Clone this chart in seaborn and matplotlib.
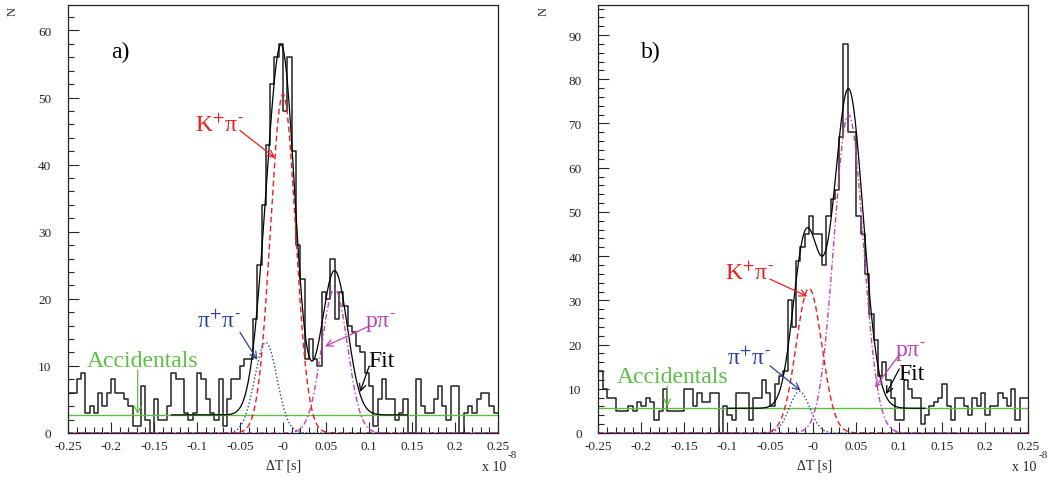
import numpy as np
import pandas as pd
import matplotlib
matplotlib.use("Agg")
import matplotlib.pyplot as plt
from matplotlib.ticker import MultipleLocator
import seaborn as sns

# 100 bins of 0.005 between -0.25 and 0.25 (x 10^-8 s)
bin_lo, bin_hi, bin_w = -0.25, 0.25, 0.005
centers = np.arange(100) * bin_w + bin_lo + bin_w / 2

# histogram a)
counts_a = [6, 6, 8, 9, 3, 4, 3, 6, 4, 6,
            8, 6, 6, 5, 4, 1, 1, 7, 2, 0,
            5, 2, 2, 4, 9, 8, 8, 3, 2, 3,
            9, 8, 5, 3, 2, 8, 1, 5, 8, 8,
            10, 11, 11, 17, 25, 34, 43, 52, 56, 58,
            48, 56, 42, 28, 23, 11, 14, 11, 10, 21,
            20, 26, 17, 21, 19, 16, 15, 13, 12, 9,
            7, 1, 5, 8, 5, 5, 2, 3, 5, 0,
            0, 8, 4, 3, 3, 5, 7, 4, 2, 7,
            7, 0, 3, 4, 3, 5, 6, 6, 4, 3]

# histogram b)
counts_b = [14, 10, 8, 8, 5, 5, 5, 6, 5, 7,
            6, 8, 7, 3, 5, 10, 5, 5, 5, 5,
            10, 10, 6, 9, 7, 7, 9, 9, 0, 6,
            4, 3, 9, 9, 9, 3, 8, 8, 12, 9,
            6, 11, 13, 14, 30, 24, 39, 42, 45, 49,
            45, 45, 38, 49, 53, 55, 67, 88, 68, 68,
            49, 45, 36, 27, 21, 13, 16, 12, 8, 3,
            3, 12, 10, 8, 8, 2, 4, 6, 7, 8,
            11, 6, 3, 8, 8, 6, 4, 8, 6, 9,
            4, 6, 6, 9, 8, 6, 10, 3, 8, 8]

# fit components: [amplitude, mean, sigma]
bg_a = 2.7
kpi_a = [50.5, 0.0, 0.0145]
pipi_a = [13.5, -0.02, 0.013]
ppi_a = [21.5, 0.06, 0.015]
fit_range_a = [-0.13, 0.145]

bg_b = 5.6
kpi_b = [32.7, -0.005, 0.015]
pipi_b = [9.4, -0.016, 0.012]
ppi_b = [72.0, 0.041, 0.017]
fit_range_b = [-0.1, 0.13]

xticks = [-0.25, -0.2, -0.15, -0.1, -0.05, 0.0, 0.05, 0.1, 0.15, 0.2, 0.25]
xtick_labels = ["-0.25", "-0.2", "-0.15", "-0.1", "-0.05", "-0",
                "0.05", "0.1", "0.15", "0.2", "0.25"]

RED = "#ee1c1c"
BLUE = "#2c3f9e"
MAGENTA = "#c040b4"
GREEN = "#5cbf44"

sns.set_style("ticks")
plt.rcParams["font.family"] = ["Liberation Serif", "DejaVu Serif"]
plt.rcParams["mathtext.fontset"] = "stix"
plt.rcParams["axes.unicode_minus"] = False

SUP_P = r"$^{+}$"
SUP_M = r"$^{\text{-}}$"


def gauss(x, p):
    return p[0] * np.exp(-0.5 * ((x - p[1]) / p[2]) ** 2)


def draw_panel(ax, counts, bg, kpi, pipi, ppi, fit_range, ymax):
    df = pd.DataFrame({"dt": centers, "n": counts})
    sns.histplot(data=df, x="dt", weights="n", binwidth=bin_w,
                 binrange=(bin_lo, bin_hi), element="step", fill=False,
                 color="#222222", linewidth=1.1, ax=ax)

    xs = np.linspace(-0.25, 0.25, 1000)
    sns.lineplot(x=xs, y=np.full_like(xs, bg), color=GREEN, lw=1.0, ax=ax)
    sns.lineplot(x=xs, y=gauss(xs, kpi), color=RED, lw=1.0,
                 linestyle=(0, (4, 2.5)), ax=ax)
    sns.lineplot(x=xs, y=gauss(xs, pipi), color=BLUE, lw=1.0,
                 linestyle=(0, (1, 1.6)), ax=ax)
    sns.lineplot(x=xs, y=gauss(xs, ppi), color=MAGENTA, lw=1.0,
                 linestyle=(0, (4, 1.8, 1, 1.8)), ax=ax)

    xf = np.linspace(fit_range[0], fit_range[1], 600)
    total = bg + gauss(xf, kpi) + gauss(xf, pipi) + gauss(xf, ppi)
    sns.lineplot(x=xf, y=total, color="black", lw=0.9, ax=ax)

    ax.set_xlim(-0.25, 0.25)
    ax.set_ylim(0, ymax)
    ax.set_xlabel("")
    ax.set_ylabel("")
    ax.set_xticks(xticks)
    ax.set_xticklabels(xtick_labels)
    ax.xaxis.set_minor_locator(MultipleLocator(0.01))
    ax.yaxis.set_major_locator(MultipleLocator(10))
    ax.yaxis.set_minor_locator(MultipleLocator(2))
    ax.tick_params(axis="x", which="major", direction="in", length=8,
                   width=0.8, pad=5, labelsize=9.5, top=False)
    ax.tick_params(axis="x", which="minor", direction="in", length=4,
                   width=0.8, top=False)
    ax.tick_params(axis="y", which="major", direction="in", length=8,
                   width=0.8, pad=12, labelsize=9.5, right=False)
    ax.tick_params(axis="y", which="minor", direction="in", length=4,
                   width=0.8, right=False)
    for s in ax.spines.values():
        s.set_visible(True)
        s.set_linewidth(0.9)
        s.set_color("#222222")


def label(ax, x, y, text, color, start=None, end=None):
    ax.text(x, y, text, color=color, fontsize=17, ha="center", va="baseline")
    if start is not None:
        ax.annotate("", xy=end, xytext=start,
                    arrowprops=dict(arrowstyle="->", color=color, lw=0.9,
                                    mutation_scale=12, shrinkA=0, shrinkB=0))


fig = plt.figure(figsize=(10.61, 4.81), dpi=100)
ax1 = fig.add_axes([68 / 1061, 47 / 481, 430 / 1061, 428 / 481])
ax2 = fig.add_axes([598.3 / 1061, 47 / 481, 430 / 1061, 428 / 481])

draw_panel(ax1, counts_a, bg_a, kpi_a, pipi_a, ppi_a, fit_range_a, 63.8)
draw_panel(ax2, counts_b, bg_b, kpi_b, pipi_b, ppi_b, fit_range_b, 96.8)

kpi_txt = "K" + SUP_P + "π" + SUP_M
pipi_txt = "π" + SUP_P + "π" + SUP_M
ppi_txt = "pπ" + SUP_M

# panel a) labels
label(ax1, -0.1886, 56.1, "a)", "black")
label(ax1, -0.074, 45.1, kpi_txt, RED, (-0.05, 45.1), (-0.0093, 41.0))
label(ax1, -0.075, 15.8, pipi_txt, BLUE, (-0.05, 15.0), (-0.0299, 10.9))
label(ax1, -0.1636, 10.0, "Accidentals", GREEN, (-0.169, 9.4), (-0.169, 2.8))
label(ax1, 0.1135, 15.8, ppi_txt, MAGENTA, (0.1012, 16.0), (0.0488, 12.9))
label(ax1, 0.115, 10.0, "Fit", "black", (0.1003, 10.0), (0.0895, 6.1))

# panel b) labels
label(ax2, -0.1887, 85.0, "b)", "black")
label(ax2, -0.0745, 34.8, kpi_txt, RED, (-0.0504, 34.8), (-0.007, 30.9))
label(ax2, -0.0745, 15.6, pipi_txt, BLUE, (-0.0504, 15.2), (-0.0147, 9.6))
label(ax2, -0.1637, 11.5, "Accidentals", GREEN, (-0.1698, 10.6), (-0.1698, 5.9))
label(ax2, 0.113, 17.5, ppi_txt, MAGENTA, (0.1008, 17.9), (0.0717, 10.3))
label(ax2, 0.1147, 12.2, "Fit", "black", (0.1, 14.5), (0.0845, 8.8))

# axis titles, ROOT-like placement
for x0 in [0, 530.3]:
    fig.text((13 + x0) / 1061, 1 - 12 / 481, "N", fontsize=9, rotation=90,
             ha="center", va="center")
    fig.text((284 + x0) / 1061, 1 - 466 / 481, "ΔT [s]", fontsize=10,
             ha="center", va="center")
    fig.text((482 + x0) / 1061, 1 - 468 / 481, "x 10", fontsize=10,
             ha="left", va="center")
    fig.text((508 + x0) / 1061, 1 - 456 / 481, "-8", fontsize=8,
             ha="left", va="center")

fig.savefig("out.png", dpi=100)
